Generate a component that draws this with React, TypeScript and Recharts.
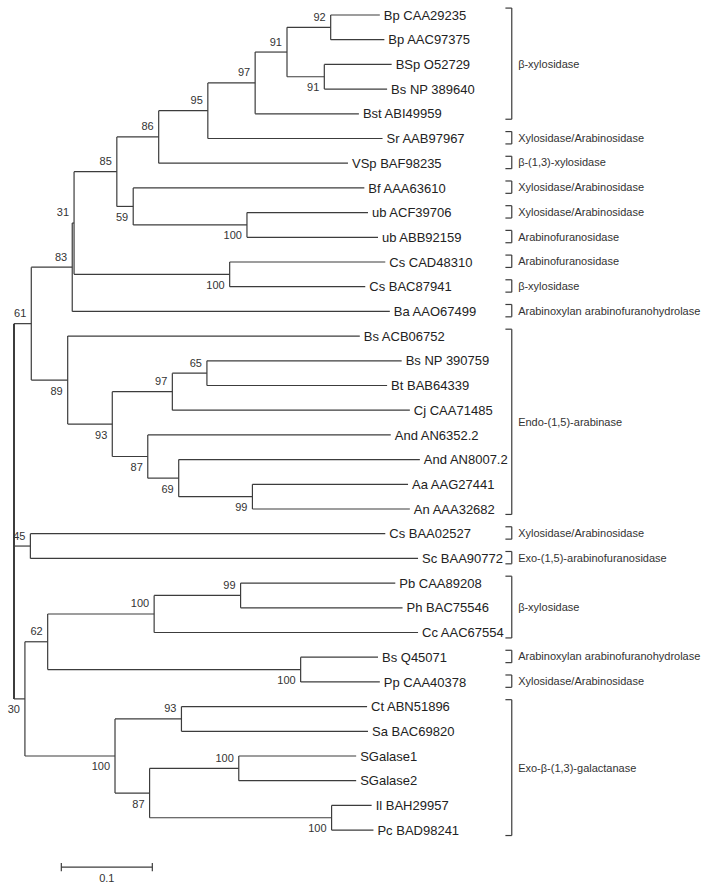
import { ScatterChart, Scatter, XAxis, YAxis, ReferenceLine } from 'recharts';

// leaf order top -> bottom, with distance from root at each tip
const leafNames = [
  'Bp CAA29235', 'Bp AAC97375', 'BSp O52729', 'Bs NP 389640', 'Bst ABI49959',
  'Sr AAB97967', 'VSp BAF98235', 'Bf AAA63610', 'ub ACF39706', 'ub ABB92159',
  'Cs CAD48310', 'Cs BAC87941', 'Ba AAO67499', 'Bs ACB06752', 'Bs NP 390759',
  'Bt BAB64339', 'Cj CAA71485', 'And AN6352.2', 'And AN8007.2', 'Aa AAG27441',
  'An AAA32682', 'Cs BAA02527', 'Sc BAA90772', 'Pb CAA89208', 'Ph BAC75546',
  'Cc AAC67554', 'Bs Q45071', 'Pp CAA40378', 'Ct ABN51896', 'Sa BAC69820',
  'SGalase1', 'SGalase2', 'Il BAH29957', 'Pc BAD98241',
];
const leafDepths = [
  0.402, 0.407, 0.415, 0.410, 0.379,
  0.405, 0.367, 0.385, 0.389, 0.400,
  0.408, 0.386, 0.413, 0.380, 0.426,
  0.410, 0.435, 0.414, 0.446, 0.433,
  0.435, 0.408, 0.444, 0.419, 0.427,
  0.444, 0.400, 0.402, 0.388, 0.389,
  0.376, 0.376, 0.393, 0.395,
];

// internal nodes: numbers in children are leaf indexes, strings are node ids
const nodes = [
  { id: 'root', depth: 0, support: null, children: ['n61', 'n45', 'n30'] },
  { id: 'n61', depth: 0.019, support: 61, children: ['n83', 'n89'] },
  { id: 'n83', depth: 0.064, support: 83, children: ['n31', 12] },
  { id: 'n31', depth: 0.066, support: 31, children: ['n85', 'nCs'] },
  { id: 'n85', depth: 0.113, support: 85, children: ['n86', 'n59'] },
  { id: 'n86', depth: 0.159, support: 86, children: ['n95', 6] },
  { id: 'n95', depth: 0.213, support: 95, children: ['n97a', 5] },
  { id: 'n97a', depth: 0.265, support: 97, children: ['n91a', 4] },
  { id: 'n91a', depth: 0.300, support: 91, children: ['n92', 'n91b'] },
  { id: 'n92', depth: 0.348, support: 92, children: [0, 1] },
  { id: 'n91b', depth: 0.341, support: 91, children: [2, 3] },
  { id: 'n59', depth: 0.131, support: 59, children: [7, 'nUb'] },
  { id: 'nUb', depth: 0.256, support: 100, children: [8, 9] },
  { id: 'nCs', depth: 0.237, support: 100, children: [10, 11] },
  { id: 'n89', depth: 0.059, support: 89, children: [13, 'n93'] },
  { id: 'n93', depth: 0.108, support: 93, children: ['n97b', 'n87a'] },
  { id: 'n97b', depth: 0.174, support: 97, children: ['n65', 16] },
  { id: 'n65', depth: 0.212, support: 65, children: [14, 15] },
  { id: 'n87a', depth: 0.147, support: 87, children: [17, 'n69'] },
  { id: 'n69', depth: 0.181, support: 69, children: [18, 'n99a'] },
  { id: 'n99a', depth: 0.262, support: 99, children: [19, 20] },
  { id: 'n45', depth: 0.018, support: 45, children: [21, 22] },
  { id: 'n30', depth: 0.012, support: 30, children: ['n62', 'nExo'] },
  { id: 'n62', depth: 0.037, support: 62, children: ['nPb', 'nBs'] },
  { id: 'nPb', depth: 0.154, support: 100, children: ['n99b', 25] },
  { id: 'n99b', depth: 0.249, support: 99, children: [23, 24] },
  { id: 'nBs', depth: 0.315, support: 100, children: [26, 27] },
  { id: 'nExo', depth: 0.111, support: 100, children: ['n93c', 'n87b'] },
  { id: 'n93c', depth: 0.184, support: 93, children: [28, 29] },
  { id: 'n87b', depth: 0.149, support: 87, children: ['nSg', 'nIl'] },
  { id: 'nSg', depth: 0.247, support: 100, children: [30, 31] },
  { id: 'nIl', depth: 0.349, support: 100, children: [32, 33] },
];

// function brackets on the right
const groupNames = [
  'β-xylosidase', 'Xylosidase/Arabinosidase', 'β-(1,3)-xylosidase', 'Xylosidase/Arabinosidase',
  'Xylosidase/Arabinosidase', 'Arabinofuranosidase', 'Arabinofuranosidase', 'β-xylosidase',
  'Arabinoxylan arabinofuranohydrolase', 'Endo-(1,5)-arabinase', 'Xylosidase/Arabinosidase',
  'Exo-(1,5)-arabinofuranosidase', 'β-xylosidase', 'Arabinoxylan arabinofuranohydrolase',
  'Xylosidase/Arabinosidase', 'Exo-β-(1,3)-galactanase',
];
const groupFirst = [0, 5, 6, 7, 8, 9, 10, 11, 12, 13, 21, 22, 23, 26, 27, 28];
const groupLast = [4, 5, 6, 7, 8, 9, 10, 11, 12, 20, 21, 22, 25, 26, 27, 33];

const scaleBarLength = 0.1;

const nodeById: Record<string, any> = Object.fromEntries(nodes.map((n) => [n.id, n]));
const isLastChild: Record<string, boolean> = {};
nodes.forEach((n) => {
  n.children.forEach((c, i) => {
    if (typeof c === 'string') isLastChild[c] = i === n.children.length - 1;
  });
});

function yOf(c: any): number {
  if (typeof c === 'number') return c;
  const n = nodeById[c];
  return (yOf(n.children[0]) + yOf(n.children[n.children.length - 1])) / 2;
}
function xOf(c: any): number {
  return typeof c === 'number' ? leafDepths[c] : nodeById[c].depth;
}

const segments: any[] = [];
nodes.forEach((n) => {
  const kids = n.children;
  segments.push({
    key: n.id + '-v', x1: n.depth, y1: yOf(kids[0]), x2: n.depth, y2: yOf(kids[kids.length - 1]),
    w: n.id === 'root' ? 2 : 1.2,
  });
  kids.forEach((k) => {
    segments.push({ key: n.id + '-' + k, x1: n.depth, y1: yOf(k), x2: xOf(k), y2: yOf(k), w: 1.2 });
  });
});

const leafData = leafNames.map((name, i) => ({ x: leafDepths[i], y: i, name }));
const supportData = nodes
  .filter((n) => n.support != null)
  .map((n) => ({ x: n.depth, y: yOf(n.id), v: n.support, below: isLastChild[n.id] }));

const BX = 0.547;
const TICK = 0.007;
const groupData = groupNames.map((name, i) => {
  const top = groupFirst[i] - 0.28;
  const bot = groupLast[i] + 0.22;
  return { name, top, bot, x: BX + 0.007, y: (top + bot) / 2 };
});

const SB_X = 0.052;
const SB_Y = 34.5;
const scaleLabel = [{ x: SB_X + scaleBarLength / 2, y: 34.95, v: String(scaleBarLength) }];

const FONT = '"Liberation Sans", Arial, Helvetica, sans-serif';
const LINE = '#3c3c3c';

const LeafLabel = (p: any) => (
  <text x={p.cx + 4} y={p.cy} dy="0.36em" fontSize={13} fill="#222" fontFamily={FONT}>
    {p.payload.name}
  </text>
);
const SupportLabel = (p: any) => (
  <text
    x={p.cx - 5}
    y={p.cy + (p.payload.below ? 10.5 : -10.5)}
    dy="0.36em"
    textAnchor="end"
    fontSize={11}
    fill="#333"
    fontFamily={FONT}
  >
    {p.payload.v}
  </text>
);
const GroupLabel = (p: any) => (
  <text x={p.cx} y={p.cy} dy="0.36em" fontSize={11} fill="#333" fontFamily={FONT}>
    {p.payload.name}
  </text>
);
const ScaleLabel = (p: any) => (
  <text x={p.cx} y={p.cy} dy="0.36em" textAnchor="middle" fontSize={11} fill="#333" fontFamily={FONT}>
    {p.payload.v}
  </text>
);

export default function App() {
  return (
    <div style={{ position: 'absolute', left: 0, top: 0, background: '#fff' }}>
      <ScatterChart width={714} height={890} margin={{ top: 15, right: 63, bottom: 10.5, left: 14 }}>
        <XAxis type="number" dataKey="x" domain={[0, 0.7]} hide />
        <YAxis type="number" dataKey="y" domain={[0, 35]} reversed hide />

        {segments.map((s) => (
          <ReferenceLine
            key={s.key}
            segment={[{ x: s.x1, y: s.y1 }, { x: s.x2, y: s.y2 }]}
            stroke={LINE}
            strokeWidth={s.w}
            ifOverflow="visible"
          />
        ))}

        {groupData.map((g, i) => [
          <ReferenceLine key={'gv' + i} segment={[{ x: BX, y: g.top }, { x: BX, y: g.bot }]} stroke={LINE} strokeWidth={1.2} ifOverflow="visible" />,
          <ReferenceLine key={'gt' + i} segment={[{ x: BX - TICK, y: g.top }, { x: BX, y: g.top }]} stroke={LINE} strokeWidth={1.2} ifOverflow="visible" />,
          <ReferenceLine key={'gb' + i} segment={[{ x: BX - TICK, y: g.bot }, { x: BX, y: g.bot }]} stroke={LINE} strokeWidth={1.2} ifOverflow="visible" />,
        ])}

        {/* scale bar */}
        <ReferenceLine segment={[{ x: SB_X, y: SB_Y }, { x: SB_X + scaleBarLength, y: SB_Y }]} stroke={LINE} strokeWidth={1.2} ifOverflow="visible" />
        <ReferenceLine segment={[{ x: SB_X, y: SB_Y - 0.17 }, { x: SB_X, y: SB_Y + 0.17 }]} stroke={LINE} strokeWidth={1.2} ifOverflow="visible" />
        <ReferenceLine segment={[{ x: SB_X + scaleBarLength, y: SB_Y - 0.17 }, { x: SB_X + scaleBarLength, y: SB_Y + 0.17 }]} stroke={LINE} strokeWidth={1.2} ifOverflow="visible" />

        <Scatter data={leafData} shape={LeafLabel} isAnimationActive={false} />
        <Scatter data={supportData} shape={SupportLabel} isAnimationActive={false} />
        <Scatter data={groupData} shape={GroupLabel} isAnimationActive={false} />
        <Scatter data={scaleLabel} shape={ScaleLabel} isAnimationActive={false} />
      </ScatterChart>
    </div>
  );
}
